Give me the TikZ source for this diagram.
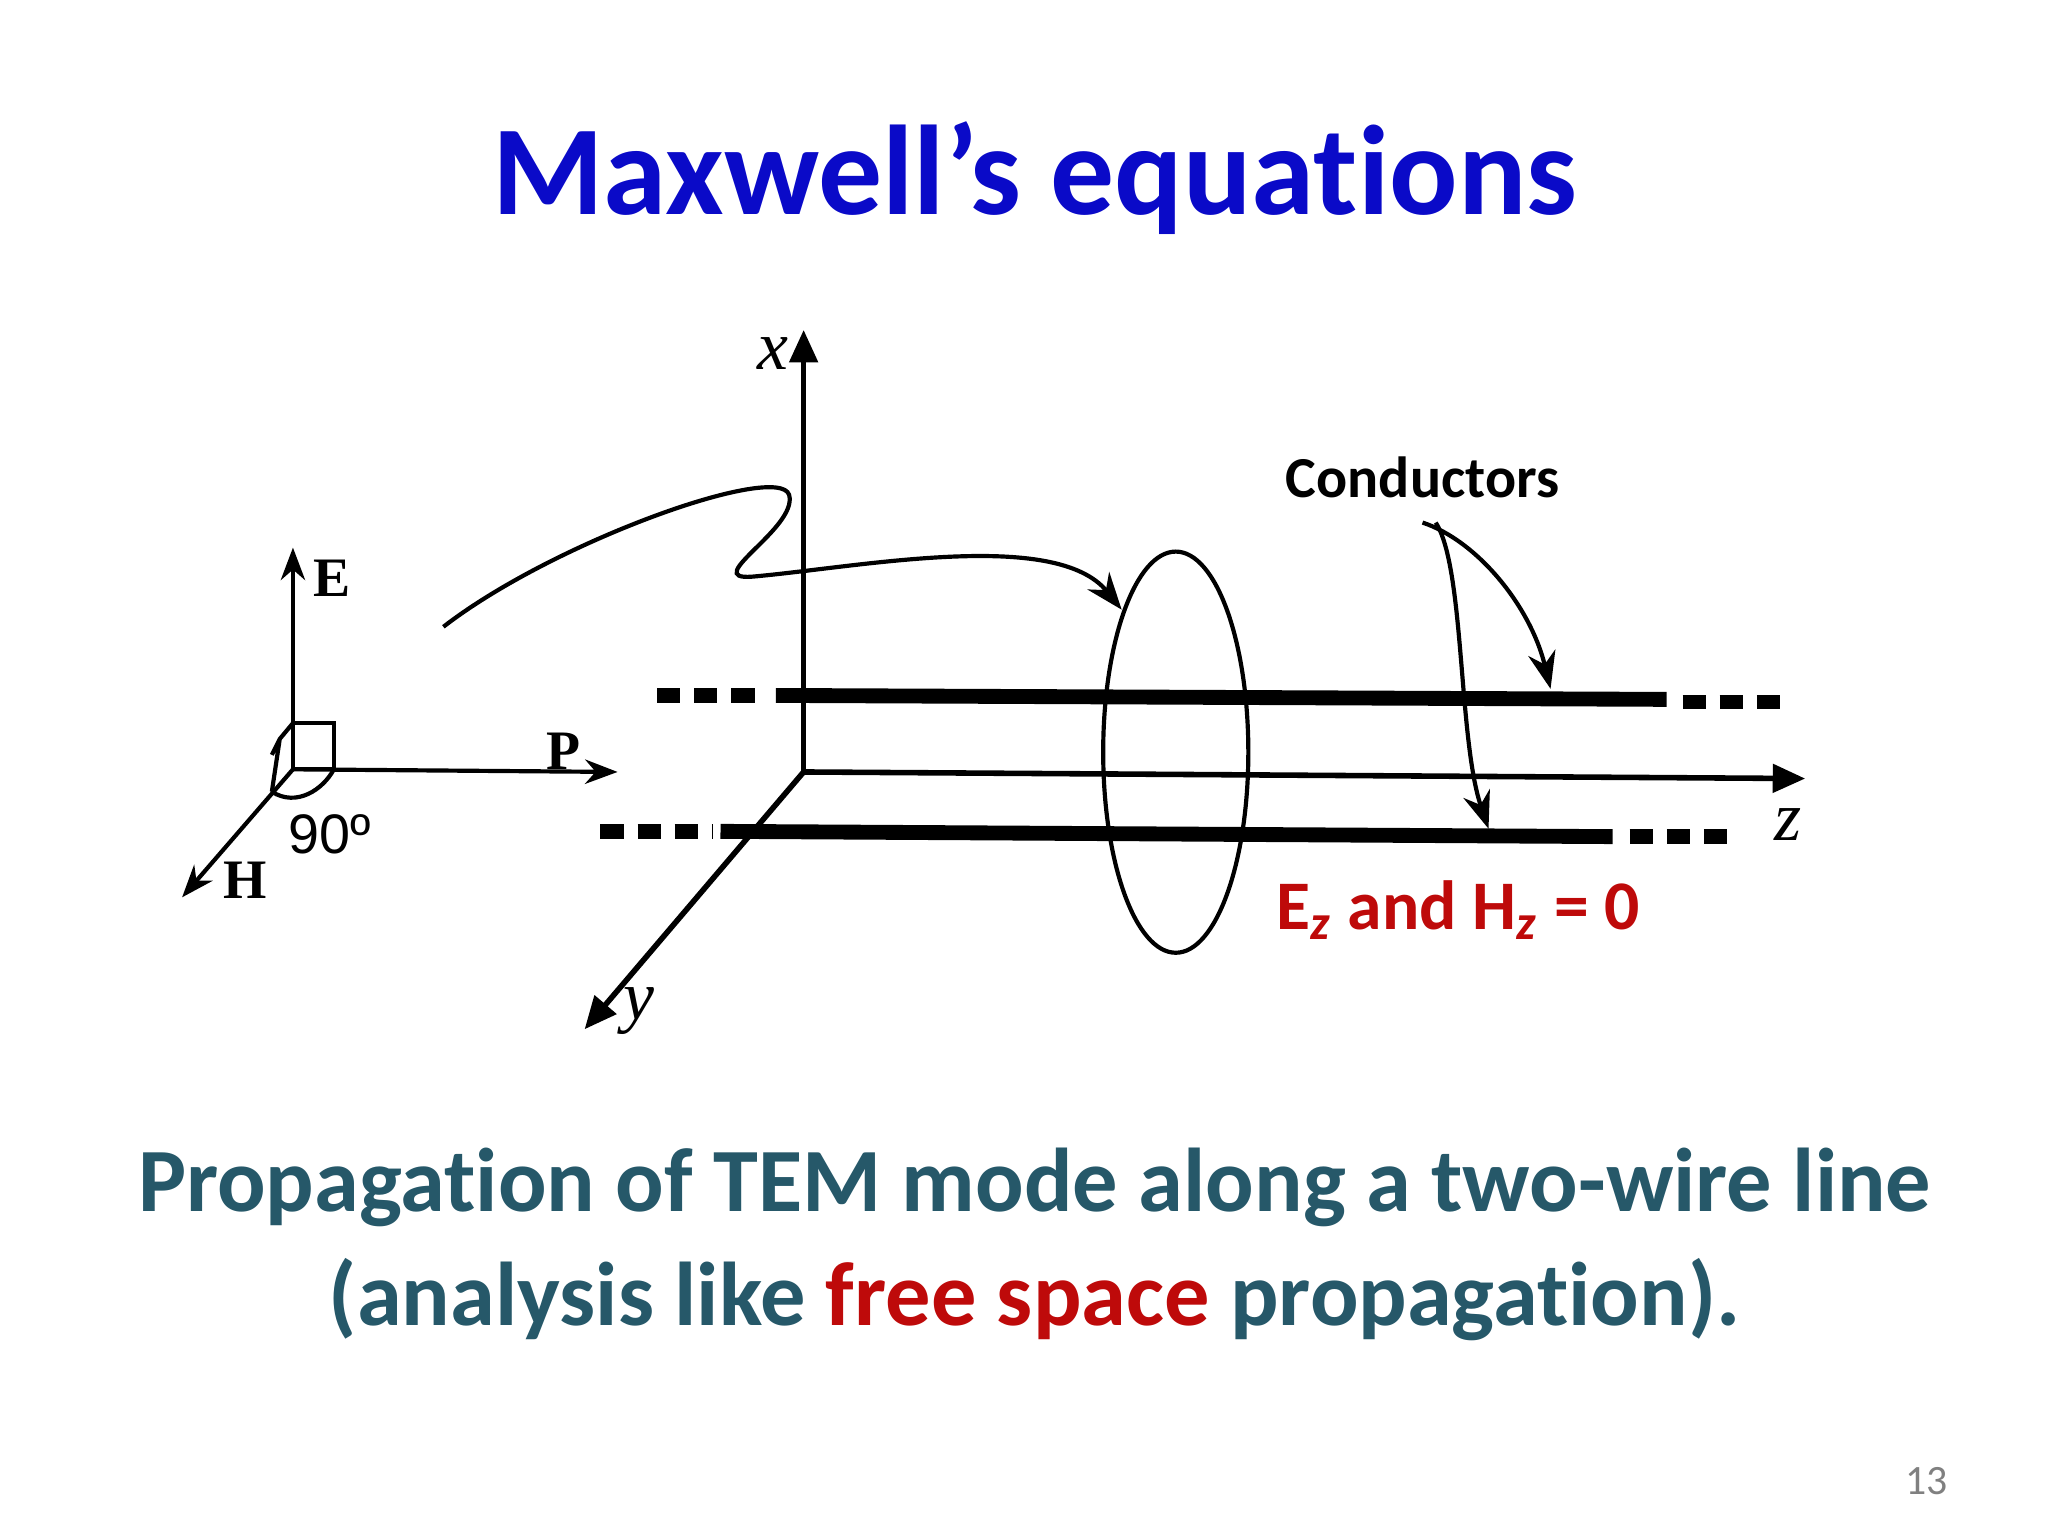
\documentclass[tikz,border=0pt]{standalone}
\usepackage{fontspec}
\setmainfont{Carlito}[RawFeature=-liga]
\usetikzlibrary{arrows.meta}
\definecolor{tblue}{RGB}{10,10,200}
\definecolor{teal2}{RGB}{38,88,105}
\definecolor{dred}{RGB}{190,10,10}
\begin{document}
\begin{tikzpicture}[x=0.01cm,y=-0.01cm,
 ax/.style={line width=1.2pt,-{Triangle[length=7pt,width=6pt]}},
 cond/.style={line width=3.2pt},
 dsh/.style={line width=3.2pt,dash pattern=on 5pt off 3pt},
 thin1/.style={line width=0.9pt}]
\useasboundingbox (0,0) rectangle (1552,1164);
\node[text=tblue,font=\fontsize{27.5}{33}\selectfont\bfseries] (title) at (784,135) {Maxwell’s equations};
% main axes
\coordinate (O) at (609,585);
\coordinate (xe) at (609,250);
\coordinate (ze) at (1368,590);
\coordinate (ye) at (443,780);
\draw[ax] (O) -- (xe);
\draw[ax] (O) -- (ze);
\draw[ax] (O) -- (ye);
\node[font=\fontsize{15}{15}\selectfont\itshape] (xl) at (586,268) {\fontspec{Liberation Serif}x};
\node[font=\fontsize{15}{15}\selectfont\itshape] (zl) at (1355,625) {\fontspec{Liberation Serif}z};
\node[font=\fontsize{15}{15}\selectfont\itshape] (yl) at (484,766) {\fontspec{Liberation Serif}y};
% conductors
\draw[cond] (588,527) -- (1263,530);
\draw[dsh] (498,527) -- (578,527);
\draw[dsh] (1275,532) -- (1355,532);
\draw[cond] (546,630) -- (1222,634);
\draw[dsh] (455,630) -- (540,630);
\draw[dsh] (1235,634) -- (1315,634);
% ellipse
\draw[thin1] (891,570) ellipse [x radius=55, y radius=152];
% curve
\coordinate (cs) at (336,475);
\coordinate (ce) at (850,462);
\draw[thin1,-{Stealth[length=8pt]}] (cs) .. controls (420,410) and (590,350) .. (598,375)
 .. controls (605,400) and (530,440) .. (570,437)
 .. controls (650,430) and (800,400) .. (ce);
% conductors label
\node[font=\fontsize{12.5}{13}\selectfont\bfseries] (cl) at (1078,362) {Conductors};
\draw[thin1,-{Stealth[length=8pt]}] (1078,396) .. controls (1120,410) and (1160,460) .. (1175,522);
\draw[thin1,-{Stealth[length=8pt]}] (1088,396) .. controls (1110,430) and (1105,560) .. (1128,628);
\node[text=dred,font=\fontsize{15}{15}\selectfont\bfseries] (ez) at (1105,690) {E\textsubscript{\itshape z} and H\textsubscript{\itshape z} = 0};
% small axes
\coordinate (o2) at (222,583);
\draw[thin1,-{Stealth[length=7pt]}] (o2) -- (222,415);
\draw[thin1,-{Stealth[length=7pt]}] (o2) -- (468,585);
\draw[thin1,-{Stealth[length=7pt]}] (o2) -- (138,680);
\draw[thin1] (222,548) rectangle (253,583);
\draw[thin1] (222,548) -- (212,560) -- (206,600) (212,560) -- (206,572);
\draw[thin1] (206,600) .. controls (225,612) and (245,598) .. (253,583);
\node[font=\fontsize{12}{12}\selectfont\bfseries\fontspec{Liberation Serif}] (El) at (252,438) {E};
\node[font=\fontsize{12}{12}\selectfont\bfseries\fontspec{Liberation Serif}] (Pl) at (427,569) {P};
\node[font=\fontsize{12}{12}\selectfont\bfseries\fontspec{Liberation Serif}] (Hl) at (186,667) {H};
\node[font=\fontsize{12}{12}\selectfont\fontspec{Liberation Sans}] (dg) at (250,632) {90º};
% bottom text
\node[text=teal2,font=\fontsize{19.5}{24}\selectfont\bfseries] (l1) at (784,900) {Propagation of TEM mode along a two-wire line};
\node[text=teal2,font=\fontsize{19.5}{24}\selectfont\bfseries] (l2) at (784,985) {(analysis like \textcolor{dred}{free space} propagation).};
\node[text=gray,font=\fontsize{9}{9}\selectfont] (pn) at (1460,1122) {13};
\end{tikzpicture}
\end{document}
